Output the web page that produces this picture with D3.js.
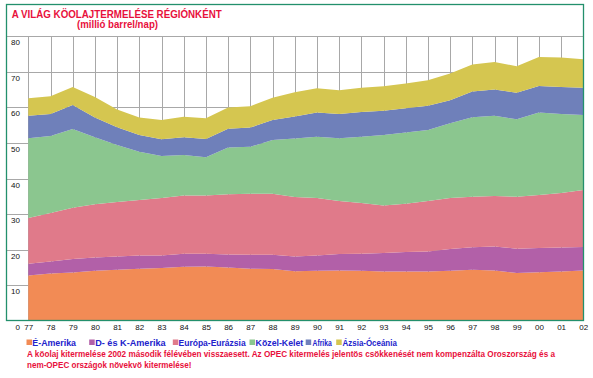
<!DOCTYPE html>
<html>
<head>
<meta charset="utf-8">
<script src="https://cdn.jsdelivr.net/npm/d3@7"></script>
<style>
  html, body { margin: 0; padding: 0; background: #ffffff; }
  svg { display: block; }
  text { font-family: "Liberation Sans", Arial, sans-serif; }
</style>
</head>
<body>
<svg id="chart" width="593" height="378"></svg>
<script>
// ---- data ----
const years = ["77","78","79","80","81","82","83","84","85","86","87","88","89",
               "90","91","92","93","94","95","96","97","98","99","00","01","02"];
const seriesNames = ["É-Amerika","D- és K-Amerika","Európa-Eurázsia","Közel-Kelet","Afrika","Ázsia-Óceánia"];
const eAmerika   = [12.8,13.3,13.6,14.1,14.4,14.7,14.9,15.2,15.3,15.0,14.7,14.6,14.0,14.1,14.2,14.1,13.9,13.9,13.9,14.1,14.4,14.2,13.5,13.7,13.9,14.2];
const dkAmerika  = [3.3,3.4,3.8,3.7,3.7,3.7,3.5,3.7,3.6,3.7,3.9,4.0,4.1,4.3,4.6,4.8,5.2,5.5,5.6,6.1,6.3,6.7,6.8,6.8,6.7,6.6];
const europa     = [12.8,13.6,14.4,15.0,15.3,15.6,16.1,16.3,16.3,16.9,17.1,17.1,16.7,16.1,14.9,14.2,13.3,13.5,14.2,14.3,14.2,14.2,14.6,14.9,15.3,16.0];
const kozelKelet = [22.4,21.6,22.1,18.8,16.0,13.5,11.8,11.4,10.8,13.1,13.2,15.1,16.4,17.2,17.6,18.6,19.8,20.0,19.9,21.0,22.3,22.5,21.7,23.1,22.2,21.0];
const afrika     = [6.3,6.2,6.7,5.5,5.0,4.7,4.7,5.0,5.1,5.3,5.4,5.6,6.2,6.8,6.8,7.0,6.8,6.8,6.8,6.5,7.2,7.4,7.5,7.5,7.6,7.7];
const azsia      = [4.9,5.0,5.1,5.8,5.0,4.9,5.4,5.7,5.8,5.9,6.0,6.3,6.8,6.8,6.7,6.8,6.9,7.0,7.2,7.5,7.6,7.7,7.4,8.1,8.3,8.0];
const yTicks = [0,10,20,30,40,50,60,70,80];
const colors = ["#F28B55","#B260A8","#E07A8A","#8BC68F","#6F80BA","#D5C650"];

const titleLines = ["A VILÁG KÖOLAJTERMELÉSE RÉGIÓNKÉNT","(millió barrel/nap)"];
const noteLines = ["A köolaj kitermelése 2002 második félévében visszaesett. Az OPEC kitermelés jelentös csökkenését nem kompenzálta Oroszország és a",
                   "nem-OPEC országok növekvö kitermelése!"];

// ---- build table ----
const seriesArrays = [eAmerika, dkAmerika, europa, kozelKelet, afrika, azsia];
const table = years.map((yr, i) => {
  const row = { year: yr };
  seriesNames.forEach((k, j) => row[k] = seriesArrays[j][i]);
  return row;
});

const svg = d3.select("#chart");

// frame geometry
const fx0 = 6.5, fx1 = 583.5, fy0 = 4.5, fy1 = 320.5;

const x = d3.scalePoint().domain(years).range([28.3, 583.3]);
const y = d3.scaleLinear().domain([0, 80]).range([321, 36]);

// gridlines (horizontal)
const gH = svg.append("g").attr("transform", `translate(${fx0},0)`)
  .call(d3.axisRight(y).tickValues(yTicks.filter(v => v > 0)).tickSize(fx1 - fx0).tickFormat(""));
gH.select(".domain").remove();
gH.selectAll("line").attr("stroke", "#a8a8a8").attr("stroke-width", 1)
  .attr("shape-rendering", "crispEdges");

// gridlines (vertical)
const gV = svg.append("g").attr("transform", `translate(0,${y(0)})`)
  .call(d3.axisBottom(x).tickSize(-(y(0) - y(80))).tickFormat(""));
gV.select(".domain").remove();
gV.selectAll("line").attr("stroke", "#a8a8a8").attr("stroke-width", 1)
  .attr("shape-rendering", "crispEdges");

// stacked areas
const stack = d3.stack().keys(seriesNames);
const stacked = stack(table);
const area = d3.area()
  .x(d => x(d.data.year))
  .y0(d => y(d[0]))
  .y1(d => y(d[1]));
svg.append("g").selectAll("path").data(stacked).join("path")
  .attr("d", area)
  .attr("fill", (d, i) => colors[i]);

// frame
svg.append("rect")
  .attr("x", fx0).attr("y", fy0)
  .attr("width", fx1 - fx0).attr("height", fy1 - fy0)
  .attr("fill", "none").attr("stroke", "#23906c").attr("stroke-width", 1.3);

// y labels
const yAx = svg.append("g").attr("transform", "translate(20,0)")
  .call(d3.axisLeft(y).tickValues(yTicks).tickSize(0).tickPadding(0));
yAx.select(".domain").remove();
yAx.selectAll("text").attr("y", 6).attr("font-size", 8)
  .attr("font-family", "'Liberation Sans', Arial, sans-serif").attr("fill", "#111");

// x labels
const xAx = svg.append("g").attr("transform", `translate(0,${y(0)})`)
  .call(d3.axisBottom(x).tickSize(0).tickPadding(3));
xAx.select(".domain").remove();
xAx.selectAll("text").attr("font-size", 8)
  .attr("font-family", "'Liberation Sans', Arial, sans-serif").attr("fill", "#111");

// title
svg.append("text").attr("x", 11.7).attr("y", 18.0)
  .attr("font-size", 10.5).attr("font-weight", "bold").attr("fill", "#e8103c")
  .attr("textLength", 210).attr("lengthAdjust", "spacingAndGlyphs")
  .text(titleLines[0]);
svg.append("text").attr("x", 77).attr("y", 28.4)
  .attr("font-size", 10).attr("font-weight", "bold").attr("fill", "#e8103c")
  .attr("textLength", 81).attr("lengthAdjust", "spacingAndGlyphs")
  .text(titleLines[1]);

// legend
const legendItems = [
  { sx: 26.5, tx: 32.3, tw: 43.7 },
  { sx: 89.2, tx: 95.2, tw: 70.5 },
  { sx: 172.8, tx: 178.5, tw: 67.2 },
  { sx: 249.5, tx: 255.6, tw: 47.7 },
  { sx: 305.7, tx: 312.5, tw: 19.3 },
  { sx: 336.2, tx: 342.6, tw: 54.2 }
];
const lg = svg.append("g");
seriesNames.forEach((name, i) => {
  const it = legendItems[i];
  lg.append("rect").attr("x", it.sx).attr("y", 339.5).attr("width", 5.5).attr("height", 5.5)
    .attr("fill", colors[i]);
  lg.append("text").attr("x", it.tx).attr("y", 346.2)
    .attr("font-size", 9.5).attr("font-weight", "bold").attr("fill", "#2222cc")
    .attr("textLength", it.tw).attr("lengthAdjust", "spacingAndGlyphs")
    .text(name);
});

// note
svg.append("text").attr("x", 27).attr("y", 357)
  .attr("font-size", 9.5).attr("font-weight", "bold").attr("fill", "#e8103c")
  .attr("textLength", 528).attr("lengthAdjust", "spacingAndGlyphs")
  .text(noteLines[0]);
svg.append("text").attr("x", 27).attr("y", 367.7)
  .attr("font-size", 9.5).attr("font-weight", "bold").attr("fill", "#e8103c")
  .attr("textLength", 164.5).attr("lengthAdjust", "spacingAndGlyphs")
  .text(noteLines[1]);
</script>
</body>
</html>
